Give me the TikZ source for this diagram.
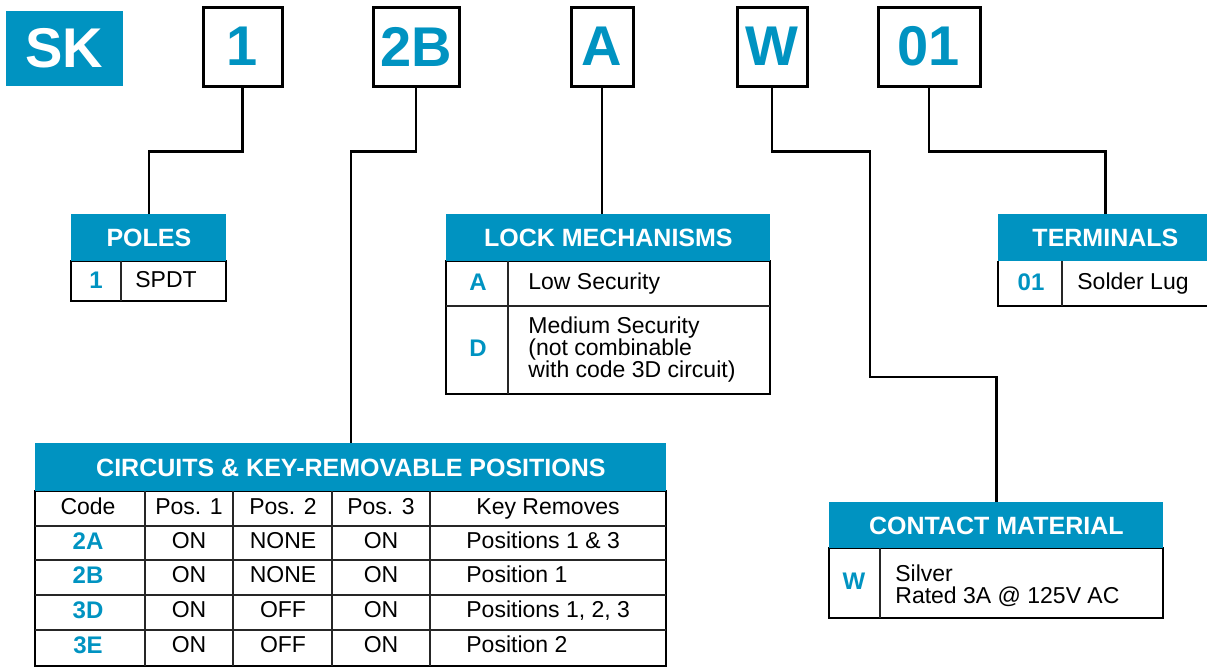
\documentclass[tikz,border=0pt]{standalone}
\usepackage{fontspec}
\setmainfont{Liberation Sans}
\definecolor{skblue}{RGB}{0,147,193}
\usetikzlibrary{positioning}

\begin{document}
\begin{tikzpicture}[x=0.5pt, y=-0.5pt,
  codebox/.style={draw=black, line width=1.5pt, inner sep=0pt, text=skblue, font=\fontsize{28}{30}\selectfont\bfseries},
  hdr/.style={fill=skblue, text=white, inner sep=0pt, anchor=north west, font=\fontsize{12.5}{14}\selectfont\bfseries},
  tbl/.style={draw=black, line width=1pt},
  cell/.style={draw=black!85, line width=0.6pt},
  link/.style={draw=black, line width=1.2pt},
  code/.style={text=skblue, inner sep=0pt, text height=8.6pt, text depth=2.4pt, font=\fontsize{12}{14}\selectfont\bfseries},
  txt/.style={font=\fontsize{11.5}{12.5}\selectfont, inner sep=0pt, text height=8.3pt, text depth=2.4pt},
  txtl/.style={txt, anchor=west},
  txtm/.style={font=\fontsize{11.5}{12.5}\selectfont, inner sep=0pt, anchor=west, align=left}
]
  \useasboundingbox (0,0) rectangle (1207,666);

  % part number
  \node[fill=skblue, text=white, inner sep=0pt, minimum width=58.5pt, minimum height=37.5pt,
        font=\fontsize{28}{30}\selectfont\bfseries] (sk) at (64.5,48.5) {SK};
  \node[codebox, minimum width=39.5pt, minimum height=39.5pt] (one) at (242.5,46.5) {1};
  \node[codebox, minimum width=43pt, minimum height=39.5pt] (twob) at (416,46.5) {2B};
  \node[codebox, minimum width=31pt, minimum height=39.5pt] (lockA) at (602,46.5) {A};
  \node[codebox, minimum width=35pt, minimum height=39.5pt] (silW) at (772,46.5) {W};
  \node[codebox, minimum width=51pt, minimum height=39.5pt] (term) at (929,46.5) {01};

  % poles
  \draw[tbl] (71,261) rectangle (226,301);
  \draw[cell] (121,261) -- (121,301);
  \node[hdr, minimum width=77.5pt, minimum height=23.5pt] (poleshd) at (71,214) {POLES};
  \node[code] (p1) at (96,282) {1};
  \node[txt] (p1t) at (166,282) {SPDT};

  % lock mechanisms
  \draw[tbl] (446,261) rectangle (770,394);
  \draw[cell] (508,261) -- (508,394);
  \draw[cell] (446,306) -- (770,306);
  \node[hdr, minimum width=162pt, minimum height=23.5pt] (lockhd) at (446,214) {LOCK MECHANISMS};
  \node[code] (lA) at (478,284) {A};
  \node[txtl] (lAt) at (528,284) {Low Security};
  \node[code] (lD) at (478,350) {D};
  \node[txtm] (lDt) at (528,350) {Medium Security\\[-1.5pt](not combinable\\[-1.5pt]with code 3D circuit)};

  % terminals
  \draw[tbl] (1212,306) -- (998,306) -- (998,261);
  \draw[cell] (1062,261) -- (1062,306);
  \node[hdr, minimum width=107pt, minimum height=23.5pt] (termhd) at (998,214) {TERMINALS};
  \node[code] (t01) at (1031,284) {01};
  \node[txtl] (t01t) at (1077,284) {Solder Lug};

  % contact material
  \draw[tbl] (829,548) rectangle (1163,618);
  \draw[cell] (880,548) -- (880,618);
  \node[hdr, minimum width=167pt, minimum height=23pt] (conthd) at (829,502) {CONTACT MATERIAL};
  \node[code] (cW) at (854,583) {W};
  \node[txtm] (cWt) at (895,586) {Silver\\[-1.5pt]Rated 3A @ 125V AC};

  % circuits
  \draw[tbl] (35,491) rectangle (666,666);
  \foreach \cx in {145,233,332,430}
    \draw[cell] (\cx,491) -- (\cx,666);
  \foreach \ry in {526,560,595,630}
    \draw[cell] (35,\ry) -- (666,\ry);
  \node[hdr, minimum width=315.5pt, minimum height=24pt] (circhd) at (35,443) {CIRCUITS \& KEY-REMOVABLE POSITIONS};
  \node[txt] (hcode) at (88,509) {Code};
  \node[txt] (hp1) at (189,509) {Pos. 1};
  \node[txt] (hp2) at (283,509) {Pos. 2};
  \node[txt] (hp3) at (381,509) {Pos. 3};
  \node[txt] (hkey) at (548,509) {Key Removes};
  \foreach \rc/\ry/\pa/\pb/\pc/\kr in {2A/543/ON/NONE/ON/Positions 1 \& 3,
                                       2B/577/ON/NONE/ON/Position 1,
                                       3D/612/ON/OFF/ON/{Positions 1, 2, 3},
                                       3E/647/ON/OFF/ON/Position 2}{
    \node[code] (c\rc) at (88,\ry) {\rc};
    \node[txt] at (189,\ry) {\pa};
    \node[txt] at (283,\ry) {\pb};
    \node[txt] at (381,\ry) {\pc};
    \node[txtl] at (466,\ry) {\kr};
  }

  % connectors
  \coordinate (wbend) at (870,377);
  \draw[link] (one.south) -- ++(0,64) -| (poleshd.north);
  \draw[link] (twob.south) -- ++(0,64) -| (circhd.north);
  \draw[link] (lockA.south) -- (lockA.south |- lockhd.north);
  \draw[link] (silW.south) -- ++(0,64) -| (wbend) -| (conthd.north);
  \draw[link] (term.south) -- ++(0,64) -| (termhd.north);
\end{tikzpicture}
\end{document}
